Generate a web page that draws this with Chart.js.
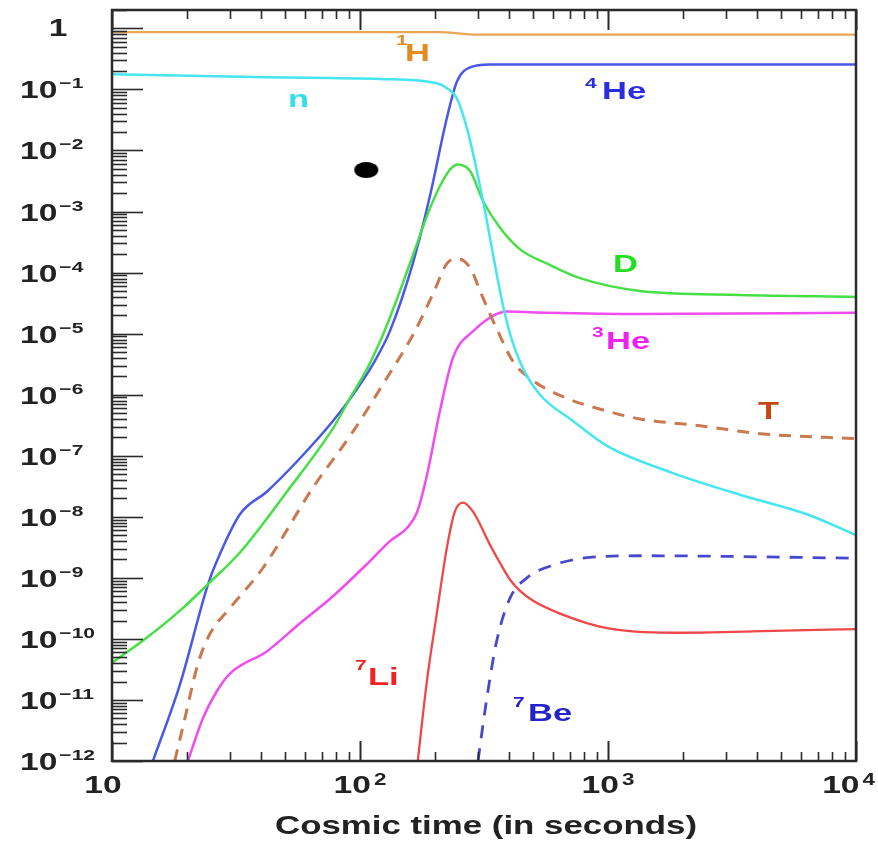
<!DOCTYPE html>
<html>
<head>
<meta charset="utf-8">
<script src="https://cdn.jsdelivr.net/npm/chart.js@4.4.1/dist/chart.umd.min.js"></script>
<style>
  html, body { margin: 0; padding: 0; background: #fff; }
  #wrap { width: 878px; height: 841px; }
</style>
</head>
<body>
<div id="wrap"><canvas id="bbn" width="878" height="841"></canvas></div>
<script>
// abundances vs cosmic time (s)
const hT = [10, 120, 210, 250, 285, 10000];
const hY = [0.87, 0.87, 0.865, 0.83, 0.79, 0.79];

const nT = [10, 42.2, 120, 204, 224, 246, 270, 296, 325, 356, 374, 403, 454, 532, 723, 991, 1828, 3404, 6339, 10000];
const nY = [0.178, 0.158, 0.148, 0.126, 0.105, 0.071, 0.023, 4.6e-3, 6.9e-4, 9.3e-5, 3.4e-5, 9.8e-6, 2.7e-6, 1.0e-6, 3.7e-7, 1.45e-7, 5.2e-8, 2.3e-8, 1.1e-8, 5.0e-9];

const he4T = [14.6, 18.8, 24.4, 26.5, 32.8, 42.2, 57.3, 77.8, 93.7, 113, 132, 164, 192, 224, 246, 278, 334, 10000];
const he4Y = [9.8e-13, 1.8e-11, 7.9e-10, 1.9e-9, 1.1e-8, 2.6e-8, 9.1e-8, 3.7e-7, 1.0e-6, 3.2e-6, 1.1e-5, 1.5e-4, 1.9e-3, 3.4e-2, 0.135, 0.23, 0.257, 0.257];

const dT = [10, 13.3, 18.8, 24.4, 32.8, 50.8, 77.8, 91.2, 107, 124, 142, 164, 188, 210, 231, 248, 278, 313, 367, 442, 568, 771, 1346, 3404, 10000];
const dY = [4.1e-11, 9.3e-11, 2.9e-10, 7.9e-10, 2.6e-9, 2.6e-8, 2.8e-7, 8.8e-7, 2.7e-6, 9.8e-6, 4.0e-5, 2.0e-4, 9.4e-4, 2.6e-3, 4.9e-3, 5.9e-3, 4.6e-3, 1.5e-3, 5.4e-4, 2.4e-4, 1.4e-4, 8.1e-5, 5.0e-5, 4.3e-5, 4.0e-5];

const triT = [17.9, 19.7, 22.2, 24.8, 29.9, 40.6, 64.6, 93.8, 128.5, 164, 197, 224, 246, 278, 305, 334, 356, 414, 499, 684, 991, 1346, 2350, 4102, 10000];
const triY = [1.0e-12, 5.1e-12, 3.9e-11, 1.2e-10, 3.2e-10, 1.45e-9, 3.0e-8, 2.5e-7, 1.9e-6, 9.8e-6, 4.5e-5, 1.4e-4, 1.7e-4, 1.2e-4, 5.0e-5, 2.1e-5, 1.2e-5, 3.5e-6, 1.7e-6, 8.7e-7, 5.4e-7, 4.0e-7, 3.1e-7, 2.3e-7, 1.9e-7];

const he3T = [20.2, 23.3, 26.5, 29.9, 42.2, 57.3, 77.8, 107, 132, 155, 170, 186, 210, 237, 286, 392, 568, 1346, 10000];
const he3Y = [9.8e-13, 5.1e-12, 1.4e-11, 2.7e-11, 6.3e-11, 1.8e-10, 5.0e-10, 1.7e-9, 4.0e-9, 6.6e-9, 1.2e-8, 4.7e-8, 5.4e-7, 4.0e-6, 1.1e-5, 2.3e-5, 2.2e-5, 2.1e-5, 2.2e-5];

const li7T = [171, 186, 204, 224, 241, 260, 286, 334, 367, 403, 442, 499, 640, 991, 1828, 4624, 10000];
const li7Y = [1.0e-12, 2.0e-11, 2.6e-10, 3.1e-9, 1.2e-8, 1.7e-8, 1.2e-8, 3.5e-9, 1.75e-9, 9.3e-10, 6.1e-10, 4.2e-10, 2.6e-10, 1.5e-10, 1.26e-10, 1.35e-10, 1.45e-10];

const be7T = [299, 325, 356, 403, 471, 583, 792, 1346, 10000];
const be7Y = [1.0e-12, 1.1e-11, 9.3e-11, 4.7e-10, 1.0e-9, 1.55e-9, 2.1e-9, 2.3e-9, 2.1e-9];

const dotT = [106];
const dotY = [4.8e-3];

// tick exponents
const yExps = [0, -1, -2, -3, -4, -5, -6, -7, -8, -9, -10, -11, -12];
const xExps = [1, 2, 3, 4];

const AXIS_TITLE = "Cosmic time (in seconds)";
const FONT = '"Liberation Sans", Arial, Helvetica, sans-serif';
const INK = "#222";

const pts = (ts, ys) => ts.map((t, i) => ({ x: t, y: ys[i] }));

// black blob drawn as an ellipse point
const dotImg = document.createElement("canvas");
dotImg.width = 26; dotImg.height = 18;
(() => {
  const c = dotImg.getContext("2d");
  c.fillStyle = "#000";
  c.beginPath();
  c.ellipse(13, 9, 12, 8, 0, 0, Math.PI * 2);
  c.fill();
})();

function line(data, color, width, dash) {
  return {
    data: data,
    borderColor: color,
    borderWidth: width,
    borderDash: dash || [],
    pointRadius: 0,
    fill: false,
    cubicInterpolationMode: "monotone"
  };
}

function txt(ctx, str, x, y, size, sx, color) {
  ctx.save();
  ctx.font = "bold " + size + "px " + FONT;
  ctx.fillStyle = color;
  ctx.textAlign = "left";
  ctx.textBaseline = "alphabetic";
  const w = ctx.measureText(str).width * sx;
  ctx.translate(x, y);
  ctx.scale(sx, 1);
  ctx.fillText(str, 0, 0);
  ctx.restore();
  return w;
}

function measure(ctx, str, size, sx) {
  ctx.save();
  ctx.font = "bold " + size + "px " + FONT;
  const w = ctx.measureText(str).width * sx;
  ctx.restore();
  return w;
}

// label with a raised mass number: [sup, main, supX, supBase, mainX, mainBase, color]
const isoLabels = [
  ["1", "H", 396, 45, 405, 61, "#e38a22"],
  ["", "n", 0, 0, 288, 107, "#35dfea"],
  ["4", "He", 585, 88, 602, 99, "#2b2de0"],
  ["", "D", 0, 0, 613, 272, "#22dd22"],
  ["3", "He", 592, 337, 606, 349, "#ee22ee"],
  ["", "T", 0, 0, 758, 419, "#c24a12"],
  ["7", "Li", 355, 670, 368, 685, "#ee2424"],
  ["7", "Be", 513, 707, 528, 721, "#2323c6"]
];

const decor = {
  id: "decor",
  beforeDraw(chart) {
    const ctx = chart.ctx;
    ctx.save();
    ctx.fillStyle = "#fff";
    ctx.fillRect(0, 0, chart.width, chart.height);
    ctx.restore();
  },
  afterDraw(chart) {
    const ctx = chart.ctx;
    const a = chart.chartArea;
    const xs = chart.scales.x, ys = chart.scales.y;

    ctx.save();
    ctx.strokeStyle = "#2a2a2a";
    // y ticks, left side, inward
    ctx.lineWidth = 1.6;
    for (let e = -12; e <= 0; e++) {
      for (let k = 1; k <= 9; k++) {
        const v = k * Math.pow(10, e);
        if (v > ys.max) break;
        const py = Math.round(ys.getPixelForValue(v)) + 0.5;
        const len = k === 1 ? 31 : 15;
        ctx.beginPath();
        ctx.moveTo(a.left, py);
        ctx.lineTo(a.left + len, py);
        ctx.stroke();
      }
    }
    // x ticks, top and bottom, inward
    for (let e = 1; e <= 4; e++) {
      for (let k = 1; k <= 9; k++) {
        const v = k * Math.pow(10, e);
        if (v > xs.max) break;
        const px = Math.round(xs.getPixelForValue(v)) + 0.5;
        const len = k === 1 ? 20 : 9;
        ctx.lineWidth = k === 1 ? 2 : 1.6;
        ctx.beginPath();
        ctx.moveTo(px, a.bottom);
        ctx.lineTo(px, a.bottom - len);
        ctx.moveTo(px, a.top);
        ctx.lineTo(px, a.top + len);
        ctx.stroke();
      }
    }
    // frame
    ctx.lineWidth = 2.5;
    ctx.strokeRect(a.left, a.top, a.right - a.left, a.bottom - a.top);
    ctx.restore();

    const SX = 1.4;
    // y tick labels
    yExps.forEach(e => {
      const py = ys.getPixelForValue(Math.pow(10, e));
      if (e === 0) {
        txt(ctx, "1", 58 - measure(ctx, "1", 24, SX) / 2, py + 8, 24, SX, INK);
        return;
      }
      const w = txt(ctx, "10", 20, py + 9, 24, SX, INK);
      txt(ctx, "\u2212" + (-e), 20 + w + 2, py - 1, 15, SX, INK);
    });

    // x tick labels
    xExps.forEach(e => {
      const px = xs.getPixelForValue(Math.pow(10, e));
      const wMain = measure(ctx, "10", 24, SX);
      const sup = e === 1 ? "" : String(e);
      const wSup = sup ? measure(ctx, sup, 16, SX) + 3 : 0;
      let left = px - (wMain + wSup) / 2;
      if (e === 1) left -= 9;
      if (left + wMain + wSup > chart.width - 3) left = chart.width - 3 - wMain - wSup;
      txt(ctx, "10", left, a.bottom + 32, 24, SX, INK);
      if (sup) txt(ctx, sup, left + wMain + 3, a.bottom + 24, 16, SX, INK);
    });

    // axis title
    const tw = measure(ctx, AXIS_TITLE, 26, 1);
    txt(ctx, AXIS_TITLE, 275, 834, 26, 422 / tw, INK);

    // isotope labels
    isoLabels.forEach(l => {
      if (l[0]) txt(ctx, l[0], l[2], l[3], 14, 1.5, l[6]);
      txt(ctx, l[1], l[4], l[5], 23, 1.5, l[6]);
    });
  }
};

new Chart(document.getElementById("bbn"), {
  type: "line",
  data: {
    datasets: [
      line(pts(hT, hY), "#eaa556", 2.2),
      line(pts(nT, nY), "#45e6f0", 2.5),
      line(pts(dT, dY), "#46e046", 2.5),
      line(pts(triT, triY), "#c9794f", 3, [12, 9]),
      line(pts(he3T, he3Y), "#f04cf0", 2.5),
      line(pts(li7T, li7Y), "#ef4848", 2.3),
      line(pts(be7T, be7Y), "#4848cf", 2.8, [13, 10]),
      line(pts(he4T, he4Y), "#4a58e6", 2.5),
      {
        data: pts(dotT, dotY),
        showLine: false,
        pointStyle: dotImg,
        pointRadius: 10,
        borderWidth: 0
      }
    ]
  },
  options: {
    responsive: false,
    animation: false,
    events: [],
    layout: { padding: { left: 112, right: 22, top: 9, bottom: 80 } },
    plugins: { legend: { display: false }, tooltip: { enabled: false } },
    scales: {
      x: { type: "logarithmic", min: 10, max: 10000, display: false },
      y: { type: "logarithmic", min: 1e-12, max: 2, display: false }
    }
  },
  plugins: [decor]
});
</script>
</body>
</html>
